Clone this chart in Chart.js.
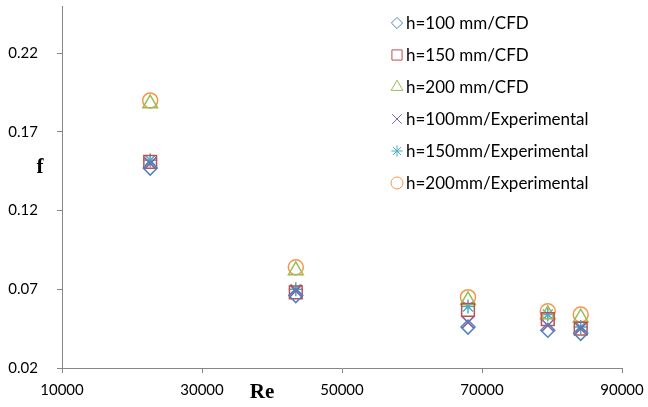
<!DOCTYPE html>
<html>
<head>
<meta charset="utf-8">
<script src="https://cdn.jsdelivr.net/npm/chart.js@4.4.1/dist/chart.umd.min.js"></script>
<style>
  body { margin: 0; background: #fff; }
  #wrap { width: 648px; height: 407px; }
</style>
</head>
<body>
<div id="wrap"><canvas id="chart"></canvas></div>
<script>
// Re values of the five test points
const reValues = [22600, 43400, 68000, 79400, 84100];

// friction factor f per series
const h100Cfd = [0.147, 0.066, 0.046, 0.044, 0.042];
const h150Cfd = [0.151, 0.068, 0.057, 0.051, 0.045];
const h200Cfd = [0.188, 0.082, 0.063, 0.054, 0.052];
const h100Exp = [0.150, 0.069, 0.049, 0.047, 0.045];
const h150Exp = [0.152, 0.070, 0.059, 0.054, 0.046];
const h200Exp = [0.190, 0.084, 0.065, 0.056, 0.054];

const seriesNames = [
  "h=100 mm/CFD", "h=150 mm/CFD", "h=200 mm/CFD",
  "h=100mm/Experimental", "h=150mm/Experimental", "h=200mm/Experimental"
];

const xTicks = [10000, 30000, 50000, 70000, 90000];
const yTicks = [0.02, 0.07, 0.12, 0.17, 0.22];

const axisGray = "#868686";

const makeSet = (label, values, color, style, radius) => ({
  label: label,
  data: values.map((v, i) => ({ x: reValues[i], y: v })),
  borderColor: color,
  backgroundColor: "transparent",
  pointStyle: style,
  pointRadius: radius,
  pointHoverRadius: radius,
  pointBorderWidth: 1.5,
  showLine: false
});

const datasets = [
  makeSet(seriesNames[0], h100Cfd, "#4F81BD", "rectRot", 7),
  makeSet(seriesNames[1], h150Cfd, "#C0504D", "rect", 9),
  makeSet(seriesNames[2], h200Cfd, "#9BBB59", "triangle", 8.5),
  makeSet(seriesNames[3], h100Exp, "#8064A2", "crossRot", 8.5),
  makeSet(seriesNames[4], h150Exp, "#4BACC6", "star", 7),
  makeSet(seriesNames[5], h200Exp, "#F79646", "circle", 7.5)
];

// legend inside the plot + the two bold axis letters
const extras = {
  id: "extras",
  afterDraw(chart) {
    const ctx = chart.ctx;
    ctx.save();
    ctx.font = "17px Lato";
    ctx.textBaseline = "middle";
    chart.data.datasets.forEach((ds, i) => {
      const y = 23 + i * 32;
      ctx.strokeStyle = ds.borderColor;
      ctx.fillStyle = "transparent";
      Chart.helpers.drawPoint(ctx, {
        pointStyle: ds.pointStyle,
        radius: ds.pointRadius * 0.8,
        borderWidth: 1.5,
        rotation: 0
      }, 397, y);
      ctx.fillStyle = "#000";
      ctx.fillText(ds.label, 406, y + 1);
    });
    ctx.font = "bold 21px 'Liberation Serif'";
    ctx.textAlign = "center";
    ctx.fillText("f", 40, 168);
    ctx.fillText("Re", 262, 393);
    ctx.restore();
  }
};

new Chart(document.getElementById("chart"), {
  type: "scatter",
  data: { datasets: datasets },
  options: {
    responsive: true,
    maintainAspectRatio: false,
    animation: false,
    layout: { autoPadding: false, padding: { top: 6, right: 26, left: 0, bottom: 0 } },
    plugins: { legend: { display: false }, tooltip: { enabled: false } },
    scales: {
      x: {
        type: "linear",
        min: 10000,
        max: 90000,
        afterBuildTicks: s => { s.ticks = xTicks.map(v => ({ value: v })); },
        afterFit: s => { s.height = 39; s.paddingLeft = 0; s.paddingRight = 0; },
        ticks: {
          color: "#000",
          font: { family: "Lato", size: 15 },
          padding: 8,
          maxRotation: 0,
          callback: v => String(v)
        },
        grid: { drawOnChartArea: false, drawTicks: true, tickLength: 5, color: axisGray },
        border: { color: axisGray, width: 1 }
      },
      y: {
        min: 0.02,
        max: 0.25,
        afterBuildTicks: s => { s.ticks = yTicks.map(v => ({ value: v })); },
        afterFit: s => { s.width = 62; s.paddingTop = 0; s.paddingBottom = 0; },
        ticks: {
          color: "#000",
          font: { family: "Lato", size: 15 },
          padding: 19,
          callback: v => v.toFixed(2)
        },
        grid: { drawOnChartArea: false, drawTicks: true, tickLength: 5, color: axisGray },
        border: { color: axisGray, width: 1 }
      }
    }
  },
  plugins: [extras]
});
</script>
</body>
</html>
